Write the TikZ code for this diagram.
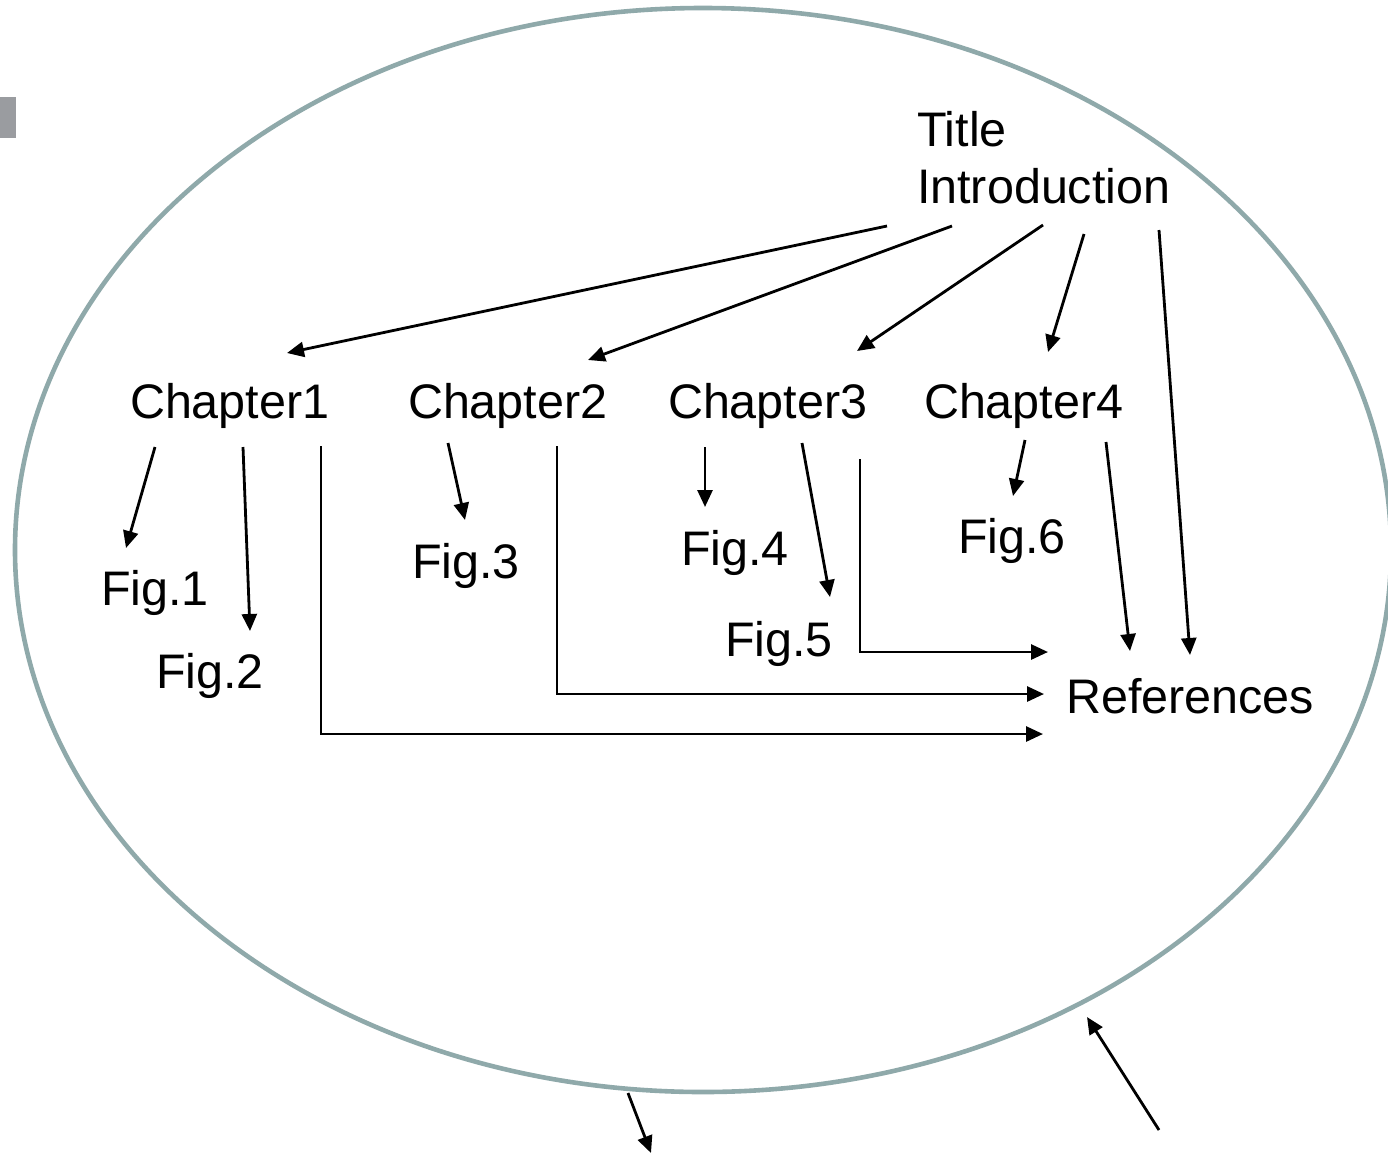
\documentclass[tikz,border=0pt]{standalone}
\usepackage{fontspec}
\setmainfont{Liberation Sans}
\usetikzlibrary{arrows.meta}
\definecolor{rimcol}{HTML}{8FA9AA}
\definecolor{tabcol}{HTML}{9A9CA0}
\tikzset{
  lbl/.style={anchor=base west, inner sep=0pt, outer sep=0pt,
    font=\fontsize{48.5}{58}\selectfont},
  arr/.style={line width=2.8pt, -{Triangle[length=17pt,width=15pt]}},
  rim/.style={draw=rimcol, line width=4.6pt}
}
\begin{document}
\begin{tikzpicture}[x=1pt, y=-1pt]
\useasboundingbox (0,0) rectangle (1388,1160);
\fill[white] (0,0) rectangle (1388,1160);
% side tab
\fill[tabcol] (0,97) rectangle (16,138);
% outer ellipse
\draw[rim] (703,550) ellipse [x radius=688, y radius=542];

% labels
\node[lbl] (title) at (917,146) {Title};
\node[lbl] (intro) at (917,203) {Introduction};
\node[lbl] (ch1) at (130,418) {Chapter1};
\node[lbl] (ch2) at (408,418) {Chapter2};
\node[lbl] (ch3) at (668,418) {Chapter3};
\node[lbl] (ch4) at (924,418) {Chapter4};
\node[lbl] (f1) at (101,605) {Fig.1};
\node[lbl] (f2) at (156,688) {Fig.2};
\node[lbl] (f3) at (412,578) {Fig.3};
\node[lbl] (f4) at (681,565) {Fig.4};
\node[lbl] (f5) at (725,656) {Fig.5};
\node[lbl] (f6) at (958,553) {Fig.6};
\node[lbl] (refs) at (1066,713) {References};

% connector ends
\coordinate (i1) at (887,226);  \coordinate (c1top) at (287,353);
\coordinate (i2) at (952,226);  \coordinate (c2top) at (588,360);
\coordinate (i3) at (1043,225); \coordinate (c3top) at (857,351);
\coordinate (i4) at (1084,234); \coordinate (c4top) at (1048,352);
\coordinate (i5) at (1159,230); \coordinate (rtop2) at (1190,655);
\coordinate (c1a) at (155,447); \coordinate (f1top) at (126,548);
\coordinate (c1b) at (243,447); \coordinate (f2top) at (250,631);
\coordinate (c1c) at (321,446); \coordinate (rin1) at (1043,734);
\coordinate (c2a) at (448,443); \coordinate (f3top) at (465,520);
\coordinate (c2b) at (557,446); \coordinate (rin2) at (1044,694);
\coordinate (c3a) at (705,447); \coordinate (f4top) at (705,507);
\coordinate (c3b) at (802,443); \coordinate (f5top) at (830,597);
\coordinate (c3c) at (860,459); \coordinate (rin3) at (1048,652);
\coordinate (c4a) at (1025,440); \coordinate (f6top) at (1013,496);
\coordinate (c4b) at (1106,442); \coordinate (rtop1) at (1130,651);
\coordinate (rimb) at (628,1093); \coordinate (outb) at (651,1153);
\coordinate (outr) at (1159,1130); \coordinate (rimr) at (1087,1017);

% introduction to chapters and references
\draw[arr] (i1) -- (c1top);
\draw[arr] (i2) -- (c2top);
\draw[arr] (i3) -- (c3top);
\draw[arr] (i4) -- (c4top);
\draw[arr] (i5) -- (rtop2);
% chapters to figures
\draw[arr] (c1a) -- (f1top);
\draw[arr] (c1b) -- (f2top);
\draw[arr] (c2a) -- (f3top);
\draw[arr] (c3a) -- (f4top);
\draw[arr] (c3b) -- (f5top);
\draw[arr] (c4a) -- (f6top);
% chapters to references
\draw[arr] (c1c) |- (rin1);
\draw[arr] (c2b) |- (rin2);
\draw[arr] (c3c) |- (rin3);
\draw[arr] (c4b) -- (rtop1);
% arrows across the rim
\draw[arr] (rimb) -- (outb);
\draw[arr] (outr) -- (rimr);
\end{tikzpicture}
\end{document}
